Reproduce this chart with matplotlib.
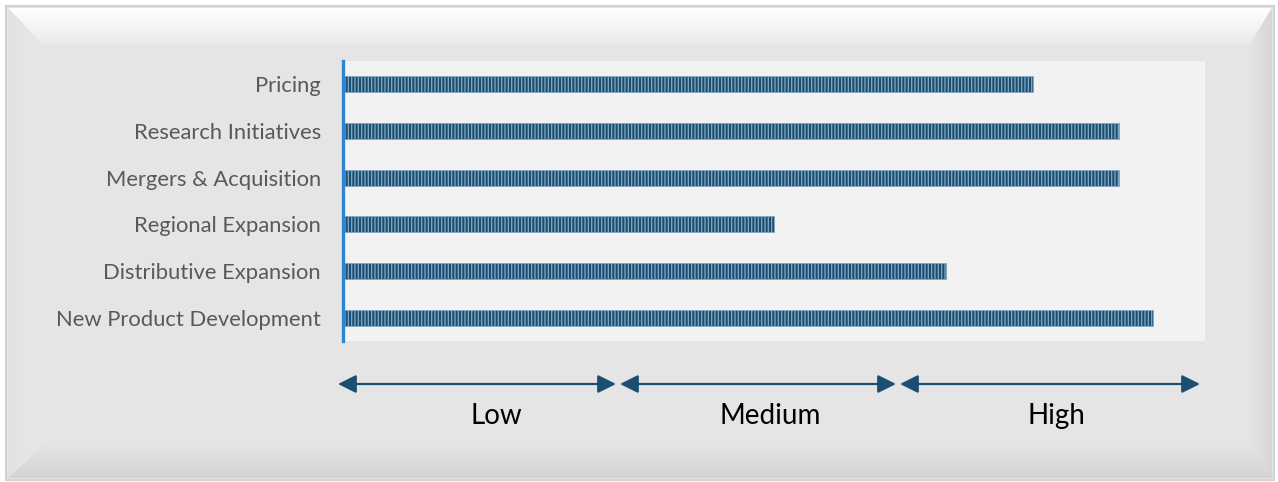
import numpy as np
import matplotlib
matplotlib.use('Agg')
import matplotlib.pyplot as plt
from matplotlib.patches import Polygon, Rectangle

# Chart data (top to bottom)
categories = ['Pricing', 'Research Initiatives', 'Mergers & Acquisition',
              'Regional Expansion', 'Distributive Expansion', 'New Product Development']
scores = [8.0, 9.0, 9.0, 5.0, 7.0, 9.4]
levels = ['Low', 'Medium', 'High']

W, H = 1278, 482
plt.rcParams['font.family'] = ['Lato', 'DejaVu Sans']
plt.rcParams['hatch.linewidth'] = 0.9

fig = plt.figure(figsize=(W / 100, H / 100), dpi=100, facecolor='white')

# Background frame drawn in pixel coordinates
bg = fig.add_axes([0, 0, 1, 1])
bg.set_xlim(0, W)
bg.set_ylim(H, 0)
bg.axis('off')

bg.add_patch(Rectangle((6, 6), 1268, 474, facecolor='#e5e5e5', edgecolor='#d2d2d2', lw=1.5))


def gradient_poly(pts, c0, c1, vertical=True):
    poly = Polygon(pts, closed=True, facecolor='none', edgecolor='none')
    bg.add_patch(poly)
    xs = [p[0] for p in pts]
    ys = [p[1] for p in pts]
    c0 = np.array(matplotlib.colors.to_rgb(c0))
    c1 = np.array(matplotlib.colors.to_rgb(c1))
    t = np.linspace(0, 1, 64)
    grad = c0[None, :] * (1 - t[:, None]) + c1[None, :] * t[:, None]
    if vertical:
        img = grad[:, None, :]
    else:
        img = grad[None, :, :]
    im = bg.imshow(img, extent=(min(xs), max(xs), max(ys), min(ys)),
                   aspect='auto', interpolation='bilinear', zorder=1)
    im.set_clip_path(poly)


# top, left, right, bottom bevels
gradient_poly([(8, 8), (1272, 8), (1250, 44), (42, 44)], '#ffffff', '#ebebeb')
gradient_poly([(8, 8), (42, 44), (42, 446), (8, 478)], '#e2e2e2', '#e8e8e8', vertical=False)
gradient_poly([(1272, 8), (1272, 478), (1250, 446), (1250, 44)], '#e4e4e4', '#d6d6d6', vertical=False)
gradient_poly([(42, 446), (1250, 446), (1272, 478), (8, 478)], '#e4e4e4', '#d3d3d3')
bg.add_patch(Rectangle((42, 44), 1208, 402, facecolor='#e5e5e5', edgecolor='none', zorder=1.5))

# Main bar chart
ax = fig.add_axes([343 / W, 1 - 341 / H, (1205 - 343) / W, 280 / H])
ax.set_facecolor('#f2f2f2')
y = np.arange(len(categories))
ax.barh(y, scores, height=0.34, color='#1b5073', edgecolor='#86a9c3',
        hatch='|||||', linewidth=0.6)
ax.set_xlim(0, 10)
ax.set_ylim(len(categories) - 0.5, -0.5)
ax.set_yticks(y)
ax.set_yticklabels(categories, fontsize=15.8, color='#595959')
ax.set_xticks([])
ax.tick_params(axis='y', length=0, pad=16)
for s in ['top', 'right', 'bottom']:
    ax.spines[s].set_visible(False)
ax.spines['left'].set_color('#2f86d0')
ax.spines['left'].set_linewidth(2.4)

# Low / Medium / High arrows below the chart
bounds = [(338, 616), (620, 896), (900, 1200)]
label_x = [496, 770, 1056]
for (x0, x1), lx, lab in zip(bounds, label_x, levels):
    bg.annotate('', xy=(x1, 384), xytext=(x0, 384), zorder=3,
                arrowprops=dict(arrowstyle='<|-|>,head_length=1.1,head_width=0.55',
                                color='#1b4f72', lw=1.6, shrinkA=0, shrinkB=0,
                                mutation_scale=10))
    bg.text(lx, 416, lab, ha='center', va='center', fontsize=20,
            color='black', zorder=3)

fig.savefig('out.png', dpi=100, facecolor='white')
